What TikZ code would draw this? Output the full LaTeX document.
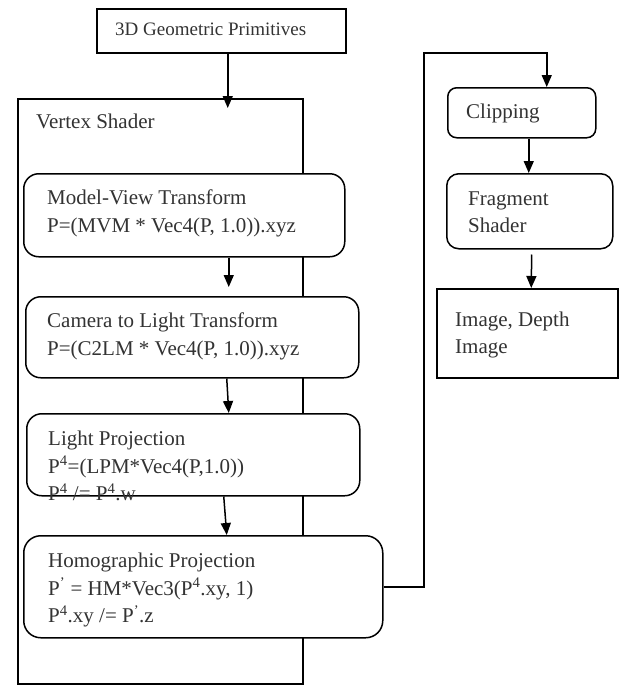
\documentclass[tikz,border=0pt]{standalone}
\usepackage{fontspec}
\setmainfont{Liberation Serif}
\usetikzlibrary{arrows.meta}
\begin{document}
\begin{tikzpicture}[x=1pt,y=-1pt,
  box/.style={draw, line width=1.5pt, fill=white, inner sep=0pt, anchor=north west},
  rbox/.style={box, rounded corners=15pt},
  txt/.style={inner sep=0pt, anchor=west, align=left, text=black!80, font=\fontsize{21}{27.5}\selectfont},
  arr/.style={line width=1.5pt, -{Triangle[length=12pt,width=10pt]}},
  conn/.style={line width=1.5pt}]
\useasboundingbox (0,0) rectangle (619,686);
% boxes
\node[box, minimum width=285pt, minimum height=585pt] (vs) at (17,98) {};
\node[box, minimum width=249pt, minimum height=44pt] (prim) at (96,8) {};
\node[rbox, minimum width=321pt, minimum height=83pt] (mv) at (23,173) {};
\node[rbox, minimum width=333pt, minimum height=81pt] (cam) at (25,296) {};
\node[rbox, minimum width=333pt, minimum height=82pt] (light) at (26,413) {};
\node[rbox, rounded corners=17pt, minimum width=359pt, minimum height=102pt] (homo) at (23,535) {};
\node[box, rounded corners=9pt, minimum width=148pt, minimum height=50pt] (clip) at (447,87) {};
\node[box, rounded corners=12pt, minimum width=166pt, minimum height=75pt] (frag) at (446,173) {};
\node[box, minimum width=181pt, minimum height=89pt] (img) at (436,288) {};
% texts
\node[txt, font=\fontsize{19}{24}\selectfont] (primt) at (115,29) {3D Geometric Primitives};
\node[txt] (vst) at (36,121) {Vertex Shader};
\node[txt] (mvt) at (47,213.5) {Model-View Transform\\P=(MVM * Vec4(P, 1.0)).xyz};
\node[txt] (camt) at (47,336.5) {Camera to Light Transform\\P=(C2LM * Vec4(P, 1.0)).xyz};
\node[txt] (lightt) at (48,466) {Light Projection\\P\textsuperscript{4}=(LPM*Vec4(P,1.0))\\P\textsuperscript{4} /= P\textsuperscript{4}.w};
\node[txt] (homot) at (48,590) {Homographic Projection\\P\textsuperscript{'} = HM*Vec3(P\textsuperscript{4}.xy, 1)\\P\textsuperscript{4}.xy /= P\textsuperscript{'}.z};
\node[txt] (clipt) at (466,113) {Clipping};
\node[txt] (fragt) at (468,212) {Fragment\\Shader};
\node[txt] (imgt) at (455,335) {Image, Depth\\Image};
% connectors
\draw[arr] ([xshift=6.5pt]prim.south) -- ([xshift=67.5pt,yshift=-10pt]vs.north);
\draw[arr, shorten >=9pt] ([xshift=44.5pt]mv.south) -- ([xshift=36.5pt]cam.north);
\draw[arr] ([xshift=34.5pt]cam.south) -- ([xshift=35.5pt]light.north);
\draw[arr] ([xshift=30.5pt]light.south) -- ([xshift=23.5pt]homo.north);
\coordinate (c1) at (424,53);
\draw[conn, -{Triangle[length=12pt,width=10pt]}] (homo.east) -| (c1) -| ([xshift=25pt]clip.north);
\draw[arr] ([xshift=7pt]clip.south) -- ([xshift=-1pt]frag.north);
\draw[arr, shorten <=5pt] ([xshift=2pt]frag.south) -- ([xshift=4pt]img.north);
\end{tikzpicture}
\end{document}
